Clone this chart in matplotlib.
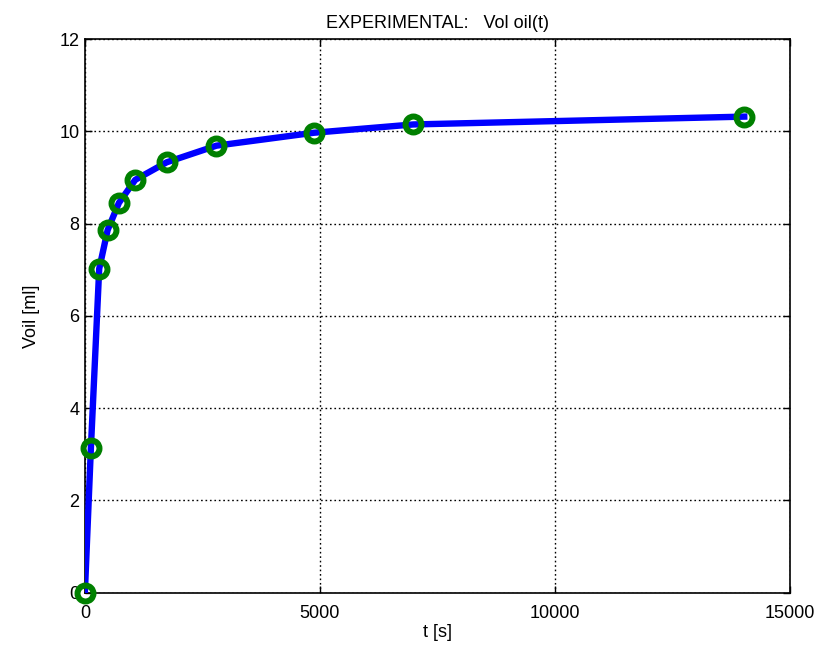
import matplotlib
matplotlib.use("Agg")
import matplotlib.pyplot as plt
import numpy as np

# measured oil volume over time
t_s = [0, 128, 305, 484, 724, 1072, 1741, 2798, 4870, 6983, 14027]
vol_ml = [0.0, 3.13, 7.02, 7.86, 8.45, 8.95, 9.33, 9.69, 9.97, 10.15, 10.32]

x_ticks = [0, 5000, 10000, 15000]
y_ticks = [0, 2, 4, 6, 8, 10, 12]

plt.rcParams['font.family'] = ['Liberation Sans', 'DejaVu Sans']
plt.rcParams['font.size'] = 13

fig = plt.figure(figsize=(8.32, 6.52), dpi=100)
ax = fig.add_axes([0.102, 0.091, 0.8475, 0.849])

ax.plot(t_s, vol_ml, color='blue', lw=4.6, solid_joinstyle='round', zorder=3)
ax.plot(t_s, vol_ml, ls='none', marker='o', ms=11.5, mew=4.3,
        mec=(0, 0.5, 0), mfc='none', zorder=4, clip_on=False)

ax.set_xlim(0, 15000)
ax.set_ylim(0, 12)
ax.set_xticks(x_ticks)
ax.set_yticks(y_ticks)
ax.grid(True, color='black', ls=(0, (1.2, 2.0)), lw=1.0)
ax.tick_params(direction='in', top=True, right=True, length=5, width=1)
ax.tick_params(axis='x', pad=9)
ax.tick_params(axis='y', pad=4)
for s in ax.spines.values():
    s.set_linewidth(1.2)

ax.set_title("EXPERIMENTAL:   Vol oil(t)", fontsize=13, pad=8)
ax.set_xlabel("t [s]", labelpad=1)
ax.set_ylabel("Voil [ml]", labelpad=14)

fig.savefig("out.png", dpi=100)
